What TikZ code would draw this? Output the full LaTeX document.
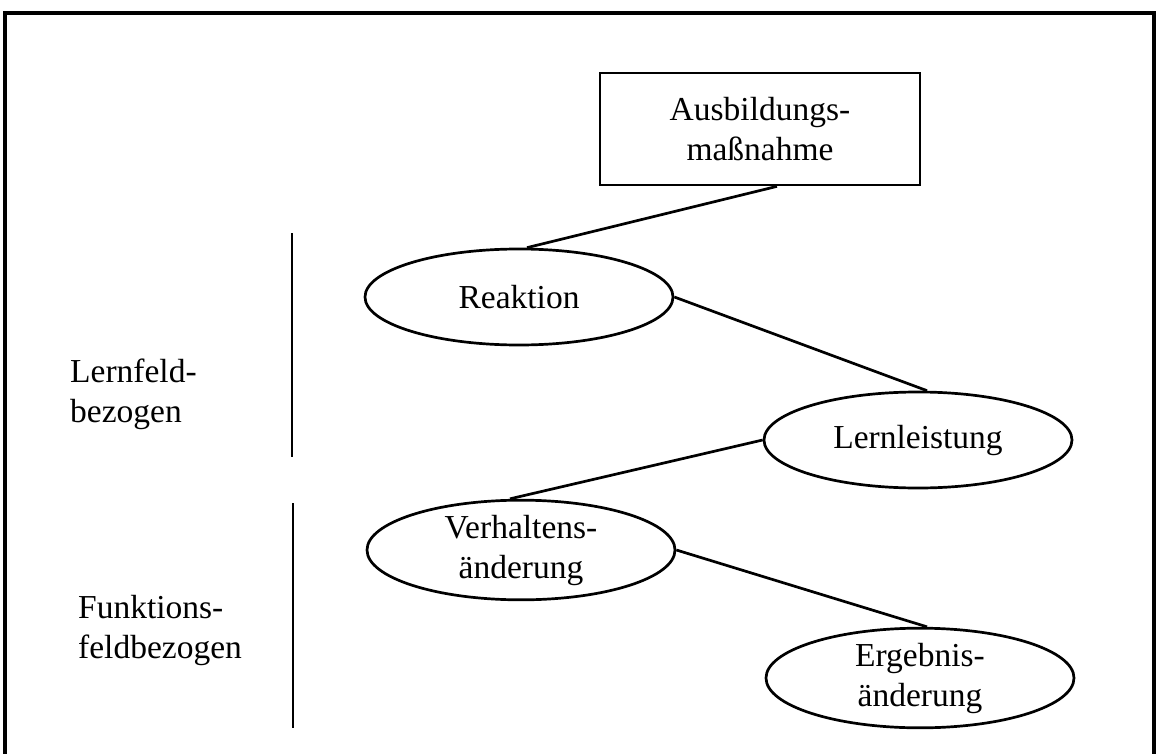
\documentclass[tikz,border=0pt]{standalone}
\usepackage{fontspec}
\setmainfont{Liberation Serif}
\usetikzlibrary{shapes.geometric}
\begin{document}
\begin{tikzpicture}[x=1pt,y=-1pt,
  every node/.style={font=\fontsize{33.5}{40}\selectfont},
  stage/.style={draw,ellipse,line width=2.7pt,minimum width=308pt,minimum height=96pt,inner sep=0pt,align=center},
  measure/.style={draw,rectangle,line width=2.7pt,minimum width=320pt,minimum height=112pt,inner sep=0pt,align=center},
  link/.style={line width=2.7pt},
  side/.style={align=left,anchor=west,inner sep=0pt}]
\useasboundingbox (0,0) rectangle (1156,754);
% outer frame (open at the bottom)
\draw[line width=3.2pt] (5,760) -- (5,13) -- (1154,13) -- (1154,760);

% evaluation levels
\node[measure] (mass) at (760,129) {Ausbildungs-\\maßnahme};
\node[stage] (reak) at (519,297) {Reaktion};
\node[stage] (lern) at (918,440) {Lernleistung};
\node[stage] (verh) at (521,550) {Verhaltens-\\änderung};
\node[stage] (erg) at (920,678) {Ergebnis-\\änderung};

\draw[link] ([xshift=17pt]mass.south) -- ([xshift=8pt]reak.north);
\draw[link] (reak.east) -- ([xshift=9pt]lern.north);
\draw[link] (lern.west) -- ([xshift=-11pt]verh.north);
\draw[link] (verh.east) -- ([xshift=7pt]erg.north);

% side labels with their brackets
\node[side] (lf) at (70,394) {Lernfeld-\\bezogen};
\node[side] (ff) at (78,630) {Funktions-\\feldbezogen};
\coordinate (lfa) at (292,233);
\coordinate (lfb) at (292,457);
\coordinate (ffa) at (293,503);
\coordinate (ffb) at (293,728);
\draw[link] (lfa) -- (lfb);
\draw[link] (ffa) -- (ffb);
\end{tikzpicture}
\end{document}
